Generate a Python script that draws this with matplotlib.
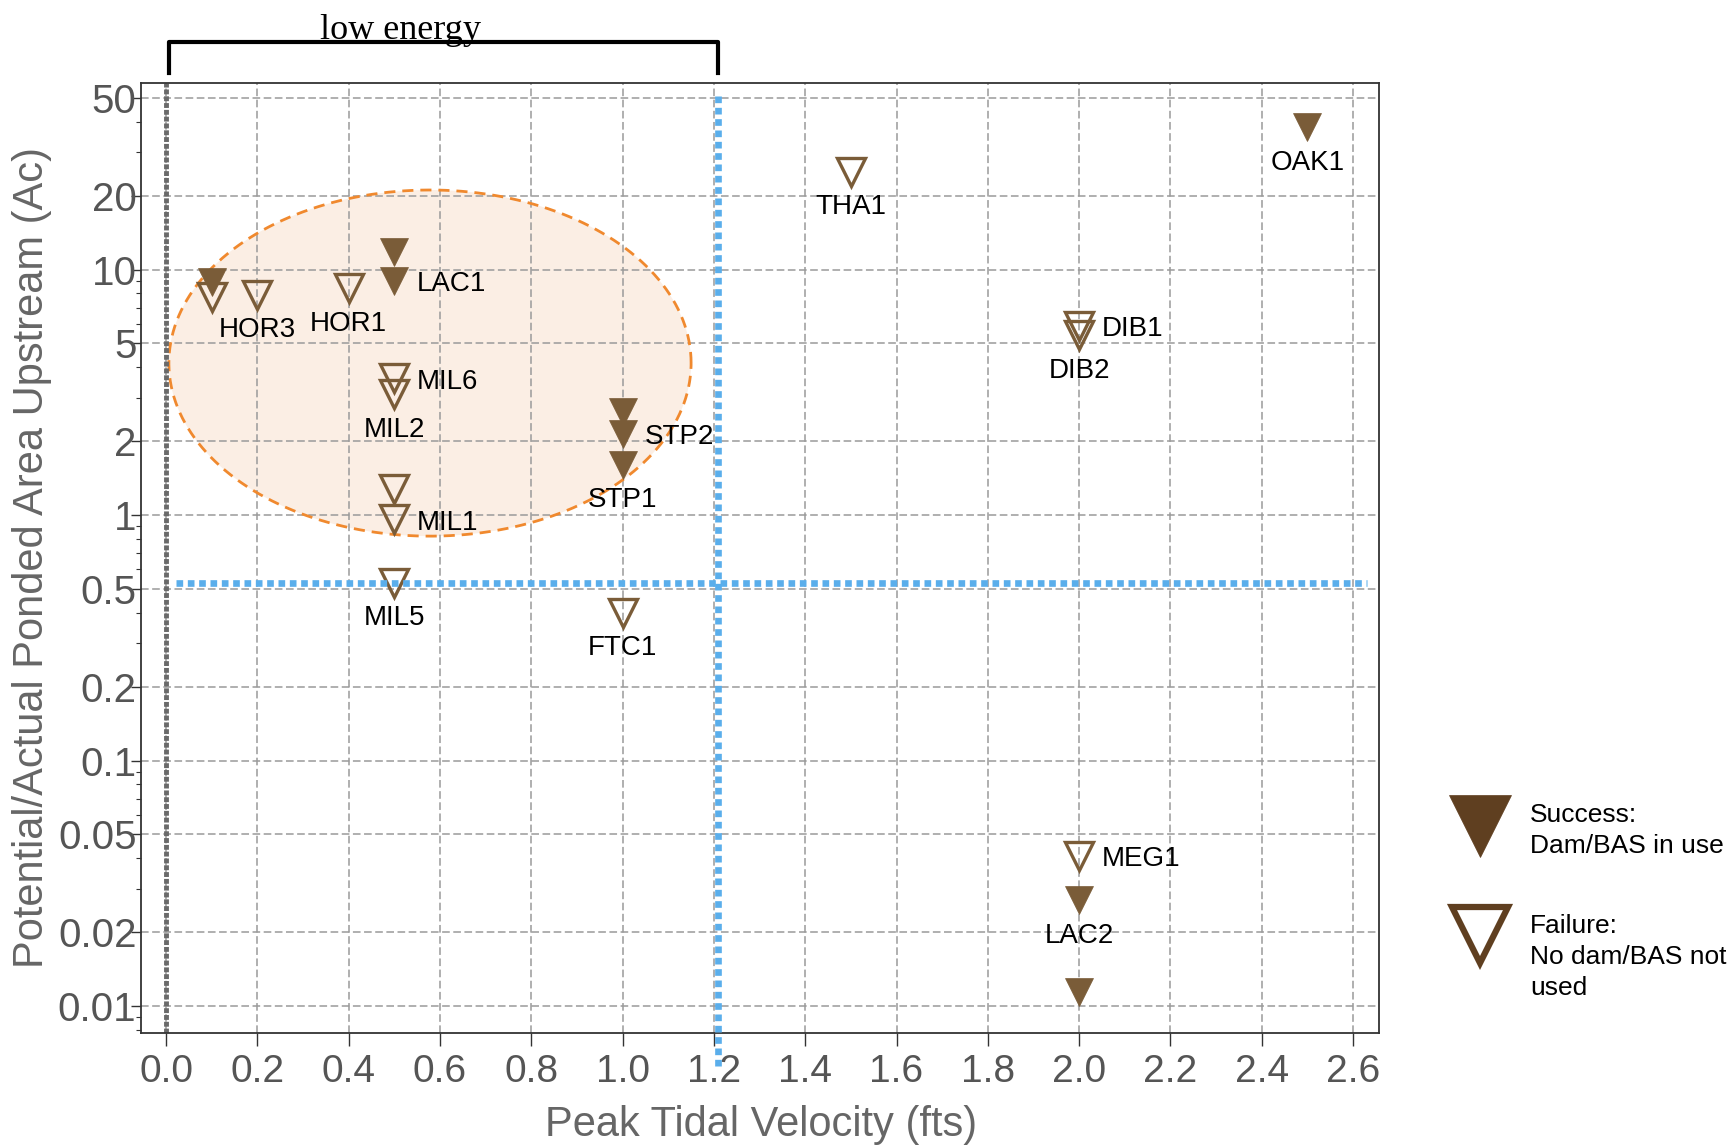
import matplotlib
matplotlib.use("Agg")
import matplotlib.pyplot as plt
import numpy as np
from matplotlib.lines import Line2D
from matplotlib.ticker import FixedLocator, LogLocator, NullFormatter

# site observations: peak tidal velocity vs potential/actual ponded area upstream
velocity = [0.1, 0.1, 0.2, 0.4, 0.5, 0.5, 0.5, 0.5, 0.5, 0.5, 0.5,
            1.0, 1.0, 1.0, 1.0, 1.5, 2.5, 2.0, 2.0, 2.0, 2.0, 2.0]
area = [8.9, 7.7, 7.9, 8.4, 11.8, 9.0, 3.6, 3.1, 1.28, 0.96, 0.53,
        2.64, 2.14, 1.6, 0.40, 25.0, 38.0, 5.9, 5.4, 0.041, 0.027, 0.0114]
success = [1, 0, 0, 0, 1, 1, 0, 0, 0, 0, 0,
           1, 1, 1, 0, 0, 1, 0, 0, 0, 1, 1]
site = ['', '', 'HOR3', 'HOR1', '', 'LAC1', 'MIL6', 'MIL2', '', 'MIL1', 'MIL5',
        '', 'STP2', 'STP1', 'FTC1', 'THA1', 'OAK1', 'DIB1', 'DIB2', 'MEG1', 'LAC2', '']
label_side = ['', '', 'below', 'below', '', 'right', 'right', 'below', '', 'right', 'below',
              '', 'right', 'below', 'below', 'below', 'below', 'right', 'below', 'right', 'below', '']

x_ticks = [0.0, 0.2, 0.4, 0.6, 0.8, 1.0, 1.2, 1.4, 1.6, 1.8, 2.0, 2.2, 2.4, 2.6]
x_tick_labels = ['0.0', '0.2', '0.4', '0.6', '0.8', '1.0', '1.2', '1.4', '1.6', '1.8',
                 '2.0', '2.2', '2.4', '2.6']
y_ticks = [0.01, 0.02, 0.05, 0.1, 0.2, 0.5, 1, 2, 5, 10, 20, 50]
y_tick_labels = ['0.01', '0.02', '0.05', '0.1', '0.2', '0.5', '1', '2', '5', '10', '20', '50']

velocity_threshold = 1.21
area_threshold = 0.53

# low energy cluster outline (x centre, half width, log10 centre, half height in decades)
ell_x, ell_w, ell_logy, ell_h = 0.578, 0.572, 0.619, 0.705

brown = '#7A5C38'
legend_brown = '#5F3F20'

fig = plt.figure(figsize=(17.29, 11.46), dpi=100)
ax = fig.add_axes([0.0813, 0.0986, 0.7163, 0.829])
ax.set_yscale('log')
ax.set_xlim(-0.056, 2.657)
ax.set_ylim(10 ** -2.110, 10 ** 1.760)

t = np.linspace(0, 2 * np.pi, 400)
ex = ell_x + ell_w * np.cos(t)
ey = 10 ** (ell_logy + ell_h * np.sin(t))
ax.fill(ex, ey, color='#FBEEE4', lw=0, zorder=1)
ax.plot(ex, ey, color='#F0892E', lw=2, dashes=(4, 2.5), zorder=1.6)

ax.grid(True, which='major', color='#9a9a9a', linestyle=(0, (5, 2.3)), lw=1.1)

ax.axvline(0, color='#6a6a6a', lw=3.5, linestyle=(0, (1, 0.4)), zorder=1.7)
ax.axhline(area_threshold, xmin=0.0287, xmax=0.990, color='#5AAEEB', lw=4.8,
           linestyle=(0, (1, 0.7)), zorder=3)
ax.axvline(velocity_threshold, ymin=-0.035, ymax=0.988, color='#5AAEEB', lw=4.8,
           linestyle=(0, (1, 0.7)), zorder=3, clip_on=False)

for x, y, ok, name, side in zip(velocity, area, success, site, label_side):
    if ok:
        ax.plot(x, y, marker='v', ls='none', ms=19.5, mfc=brown, mec=brown, mew=0.5, zorder=2)
    else:
        ax.plot(x, y, marker='v', ls='none', ms=20, mfc='none', mec=brown, mew=2.4, zorder=2)
    if name:
        if side == 'below':
            off, ha = (0, -25.5), 'center'
        else:
            off, ha = (16, -2.4), 'left'
        ax.annotate(name, (x, y), xytext=off, textcoords='offset points', ha=ha,
                    va='center', fontsize=20, family='Liberation Sans', color='black',
                    zorder=4)

ax.xaxis.set_major_locator(FixedLocator(x_ticks))
ax.set_xticklabels(x_tick_labels, family='Liberation Sans')
ax.yaxis.set_major_locator(FixedLocator(y_ticks))
ax.set_yticklabels(y_tick_labels, family='Liberation Sans')
ax.yaxis.set_minor_locator(LogLocator(subs=np.arange(2, 10)))
ax.yaxis.set_minor_formatter(NullFormatter())
ax.tick_params(axis='y', which='major', direction='out', length=7, width=1,
               color='#333333', labelsize=29, labelcolor='#555555', pad=-4)
ax.tick_params(axis='y', which='minor', direction='out', length=3.5, width=0.8,
               color='#333333')
ax.tick_params(axis='x', direction='out', length=9, width=1, color='#333333',
               labelsize=28, labelcolor='#555555', pad=6)
for s in ax.spines.values():
    s.set_color('#333333')
    s.set_linewidth(1.3)

ax.set_xlabel('Peak Tidal Velocity (fts)', fontsize=30, color='#666666',
              family='Liberation Sans')
ax.xaxis.set_label_coords(0.501, -0.076)
ax.set_ylabel('Potential/Actual Ponded Area Upstream (Ac)', fontsize=30,
              color='#666666', family='Liberation Sans')
ax.yaxis.set_label_coords(-0.0715, 0.501)

# bracket over the low energy zone
xt = ax.get_xaxis_transform()
ax.plot([0.007, 0.007, velocity_threshold, velocity_threshold],
        [1.0105, 1.043, 1.043, 1.0105],
        transform=xt, clip_on=False, color='black', lw=3, solid_joinstyle='round', zorder=5)
ax.text(0.513, 1.046, 'low energy', transform=xt, ha='center', va='baseline',
        fontsize=26, family='Liberation Serif', color='black', zorder=4)

# legend
fig.add_artist(Line2D([0.856], [0.2788], transform=fig.transFigure, marker='v', ls='none',
                      ms=45, mfc=legend_brown, mec=legend_brown, mew=0.5))
fig.add_artist(Line2D([0.8557], [0.1841], transform=fig.transFigure, marker='v', ls='none',
                      ms=41, mfc='none', mec=legend_brown, mew=4.5))
fig.text(0.8849, 0.2990, 'Success:\nDam/BAS in use', fontsize=19, ha='left', va='top',
         family='Liberation Sans', linespacing=1.35)
fig.text(0.8849, 0.2021, 'Failure:\nNo dam/BAS not\nused', fontsize=19, ha='left', va='top',
         family='Liberation Sans', linespacing=1.35)

fig.savefig('out.png', dpi=100)
